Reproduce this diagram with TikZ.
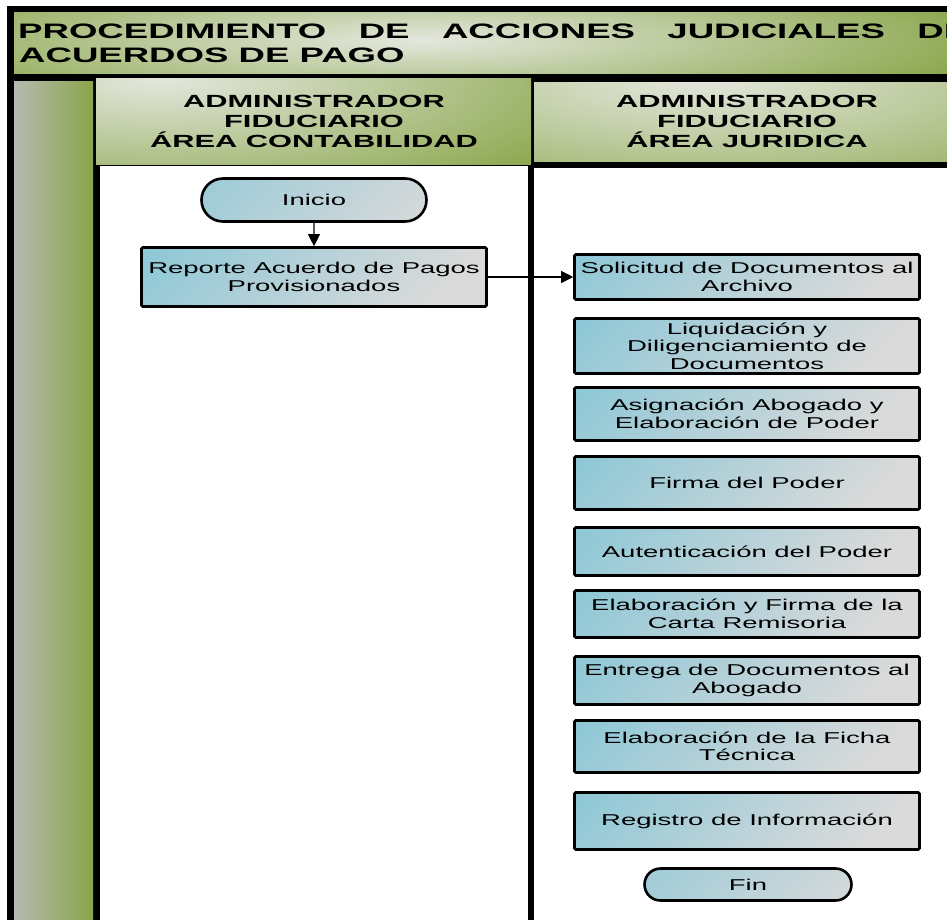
\documentclass[tikz,border=0pt]{standalone}
\usepackage{fontspec}
\setmainfont{Liberation Sans}
\newfontfamily\wfont[FakeStretch=1.75]{Liberation Sans}
\usetikzlibrary{shapes.misc,arrows.meta}
\definecolor{grn}{RGB}{137,166,74}
\definecolor{grnlight}{RGB}{228,231,222}
\definecolor{stripgray}{RGB}{182,186,176}
\definecolor{boxblue}{RGB}{118,194,214}
\definecolor{boxgray}{RGB}{218,218,218}
\pgfdeclarehorizontalshading{boxsh}{100bp}{color(0bp)=(boxblue); color(29bp)=(boxblue); color(60bp)=(boxgray); color(100bp)=(boxgray)}
\begin{document}
\begin{tikzpicture}[x=1pt,y=-1pt,
  boxshade/.style={path picture={
    \shade[shading=boxsh, shading angle=-45]
      (path picture bounding box.center) +(-250,-250) rectangle +(250,250);}},
  procbox/.style={draw=black, line width=2.6pt, rounded corners=1.2pt,
    boxshade, minimum width=345pt, inner sep=2pt, align=center,
    font=\wfont\fontsize{15.7}{17.5}\selectfont},
  termbox/.style={draw=black, line width=2.6pt, rounded rectangle,
    boxshade, inner sep=2pt, align=center,
    font=\wfont\fontsize{15.7}{17.5}\selectfont},
  conn/.style={line width=1.1pt, -{Triangle[length=12pt,width=12pt]}},
  hdr/.style={align=center, inner sep=0pt,
    font=\wfont\bfseries\fontsize{17.6}{20}\selectfont},
  ttl/.style={anchor=base west, inner sep=0pt,
    font=\wfont\bfseries\fontsize{20.9}{24}\selectfont}]
\useasboundingbox (0,0) rectangle (947,920);
\clip (0,0) rectangle (947,920);
\fill[white] (0,0) rectangle (947,920);
% black frame
\fill[black] (7,6) rectangle (947,920);
% title band
\begin{scope}
  \clip (14,13) rectangle (947,74);
  \fill[grn] (14,13) rectangle (947,74);
  \shade[inner color=grnlight, outer color=grn] (420,40) ellipse [x radius=600, y radius=80];
\end{scope}
% left strip
\shade[left color=stripgray, right color=grn] (14,82) rectangle (93,920);
% header 1
\begin{scope}
  \clip (96,79) rectangle (531,165);
  \fill[grn] (96,79) rectangle (531,165);
  \shade[inner color=grnlight, outer color=grn] (160,78) ellipse [x radius=500, y radius=140];
\end{scope}
% header 2
\begin{scope}
  \clip (534,83) rectangle (947,162);
  \fill[grn] (534,83) rectangle (947,162);
  \shade[inner color=grnlight, outer color=grn] (700,78) ellipse [x radius=560, y radius=150];
\end{scope}
% lanes
\fill[white] (100,166) rectangle (528,920);
\fill[white] (534,168) rectangle (947,920);
% title text
\node[ttl] (t1) at (18,39) {\hbox to 950pt{PROCEDIMIENTO\hfil DE\hfil ACCIONES\hfil JUDICIALES\hfil DE}};
\node[ttl] (t2) at (19,62.5) {ACUERDOS DE PAGO};
% headers
\node[hdr] (h1) at (314,121) {ADMINISTRADOR\\FIDUCIARIO\\ÁREA CONTABILIDAD};
\node[hdr] (h2) at (747,121) {ADMINISTRADOR\\FIDUCIARIO\\ÁREA JURIDICA};
% lane 1
\node[termbox, minimum width=229pt, minimum height=43pt] (ini) at (314,200) {Inicio};
\node[procbox, minimum height=59pt] (rep) at (314,277) {Reporte Acuerdo de Pagos\\Provisionados};
% lane 2
\node[procbox, minimum height=45pt] (s1) at (747,277) {Solicitud de Documentos al\\Archivo};
\node[procbox, minimum height=55pt] (s2) at (747,346) {Liquidación y\\Diligenciamiento de\\Documentos};
\node[procbox, minimum height=53pt] (s3) at (747,414) {Asignación Abogado y\\Elaboración de Poder};
\node[procbox, minimum height=53pt] (s4) at (747,483) {Firma del Poder};
\node[procbox, minimum height=48pt] (s5) at (747,551.5) {Autenticación del Poder};
\node[procbox, minimum height=47pt] (s6) at (747,614) {Elaboración y Firma de la\\Carta Remisoria};
\node[procbox, minimum height=48pt] (s7) at (747,680.5) {Entrega de Documentos al\\Abogado};
\node[procbox, minimum height=52pt] (s8) at (747,746.5) {Elaboración de la Ficha\\Técnica};
\node[procbox, minimum height=57pt] (s9) at (747,821) {Registro de Información};
\node[termbox, minimum width=211pt, minimum height=32pt] (fin) at (748,884.5) {Fin};
% connectors
\draw[conn] (ini) -- (rep);
\draw[conn] (rep) -- (s1);
\end{tikzpicture}
\end{document}
